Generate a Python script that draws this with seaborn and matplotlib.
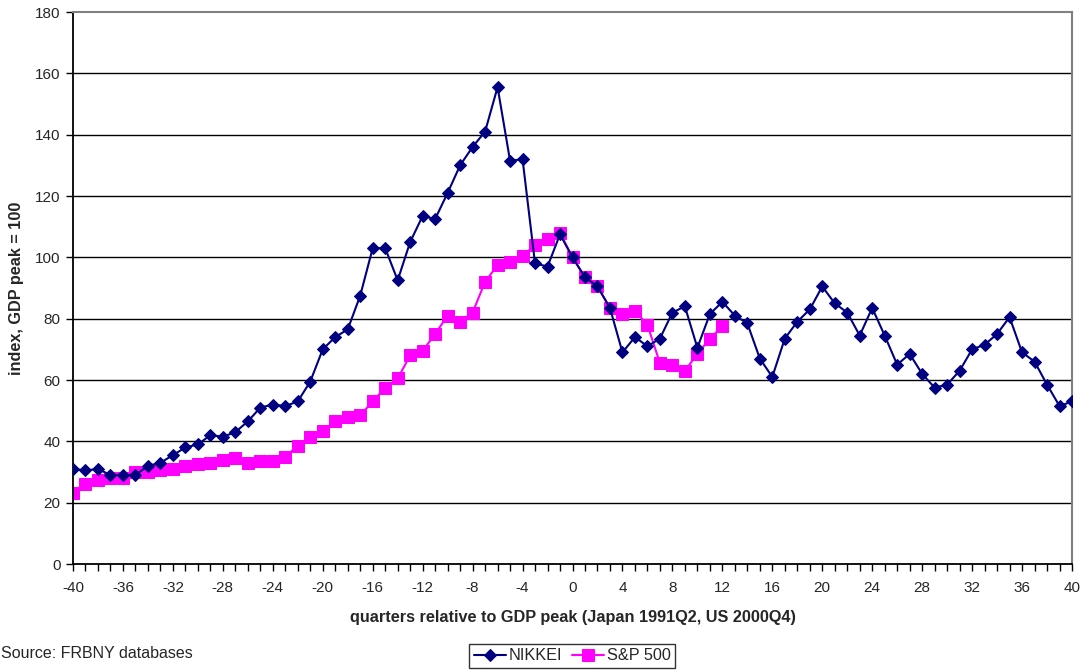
import matplotlib
matplotlib.use("Agg")
import matplotlib.pyplot as plt
import seaborn as sns
import pandas as pd
import numpy as np

sns.set_style("white")
plt.rcParams['font.family'] = ['Liberation Sans', 'DejaVu Sans']
plt.rcParams['axes.unicode_minus'] = False

quarters_nikkei = list(range(-40, 41))
nikkei = [31, 30.5, 31, 29, 29, 29, 32, 33, 35.5, 38,
          39, 42, 41.5, 43, 46.5, 51, 52, 51.5, 53, 59.5,
          70, 74, 76.5, 87.5, 103, 103, 92.5, 105, 113.5, 112.5,
          121, 130, 136, 141, 155.5, 131.5, 132, 98, 97, 107.5,
          100, 93.5, 90.5, 83.5, 69, 74, 71, 73.5, 82, 84,
          70.5, 81.5, 85.5, 81, 78.5, 67, 61, 73.5, 79, 83,
          90.5, 85, 82, 74.5, 83.5, 74.5, 65, 68.5, 62, 57.5,
          58.5, 63, 70, 71.5, 75, 80.5, 69, 66, 58.5, 51.5, 53]

quarters_sp = list(range(-40, 13))
sp500 = [23, 26, 27.5, 28, 28, 30, 30, 30.5, 31, 32,
         32.5, 33, 34, 34.5, 33, 33.5, 33.5, 35, 38.5, 41.5,
         43.5, 46.5, 48, 48.5, 53, 57.5, 60.5, 68, 69.5, 75,
         81, 79, 82, 92, 97.5, 98.5, 100.5, 104, 106, 108,
         100, 93.5, 90.5, 83.5, 81.5, 82.5, 78, 65.5, 65, 63,
         68.5, 73.5, 77.5]

x_ticks = list(range(-40, 41, 4))
y_ticks = list(range(0, 181, 20))

df_n = pd.DataFrame({"q": quarters_nikkei, "v": nikkei})
df_s = pd.DataFrame({"q": quarters_sp, "v": sp500})

fig = plt.figure(figsize=(10.88, 6.70), dpi=100)
ax = fig.add_axes([73/1088, 1-564/670, (1072-73)/1088, (564-12)/670])

for y in y_ticks[1:-1]:
    ax.axhline(y, color='#000000', lw=1.0, zorder=1)

sns.lineplot(data=df_n, x="q", y="v", ax=ax, color='#000080', lw=1.5,
             marker='D', markersize=6.5, markeredgecolor='#000080',
             markerfacecolor='#000080', label='NIKKEI', zorder=3)
sns.lineplot(data=df_s, x="q", y="v", ax=ax, color='#FF00FF', lw=1.5,
             marker='s', markersize=8, markeredgecolor='#FF00FF',
             markerfacecolor='#FF00FF', label='S&P 500', zorder=2)

ax.set_xlim(-40, 40)
ax.set_ylim(0, 180)
ax.set_xticks(x_ticks)
ax.set_xticks(quarters_nikkei, minor=True)
ax.set_yticks(y_ticks)
ax.tick_params(axis='y', which='major', direction='out', length=5, width=1,
               labelsize=11, color='black', left=True, pad=4)
ax.tick_params(axis='x', which='major', direction='out', length=5, width=1,
               labelsize=11, color='black', bottom=True, pad=7)
ax.tick_params(axis='x', which='minor', direction='out', length=5, width=1,
               color='black', bottom=True)

for s in ['left', 'bottom']:
    ax.spines[s].set_color('black')
    ax.spines[s].set_linewidth(1.3)
for s in ['top', 'right']:
    ax.spines[s].set_color('#808080')
    ax.spines[s].set_linewidth(1.5)

ax.set_xlabel('quarters relative to GDP peak (Japan 1991Q2, US 2000Q4)',
              fontsize=11.7, fontweight='bold', labelpad=11)
ax.set_ylabel('index, GDP peak = 100', fontsize=11.7, fontweight='bold', labelpad=8)

leg = ax.legend(loc='center', bbox_to_anchor=(572/1088, 1-656/670),
                bbox_transform=fig.transFigure, ncol=2, frameon=True,
                fancybox=False, edgecolor='black', fontsize=11.7,
                handlelength=2.0, handletextpad=0.15, columnspacing=0.6,
                borderpad=0.25, borderaxespad=0)
leg.get_frame().set_linewidth(1.0)

fig.text(1/1088, 1-653/670, 'Source: FRBNY databases', fontsize=11.5,
         ha='left', va='center')

fig.savefig('out.png', dpi=100)
